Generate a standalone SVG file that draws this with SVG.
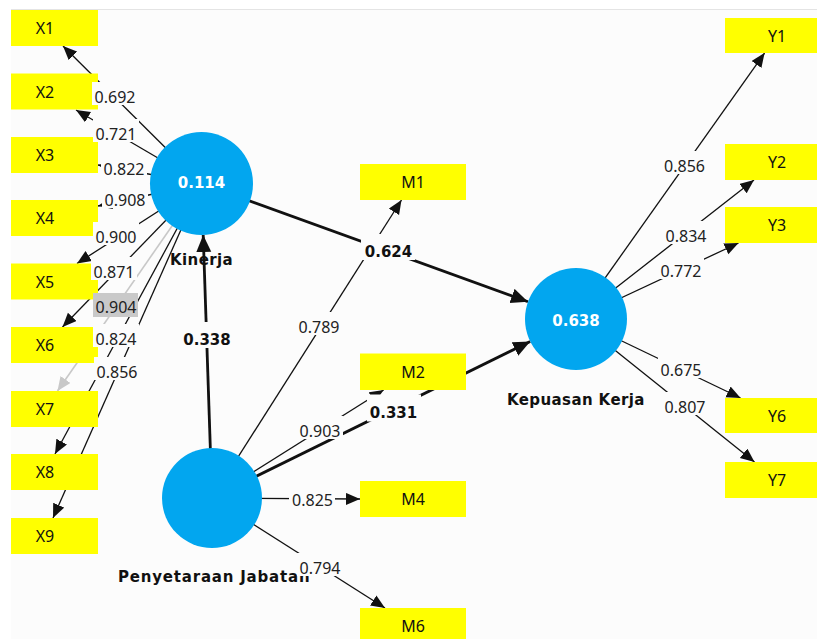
<svg xmlns="http://www.w3.org/2000/svg" width="817" height="639" viewBox="0 0 817 639">
<defs>
<style>
.bg{fill:#fcfcfc}
.ind{fill:#ffff00}
.lv{fill:#02a6ef}
.ilbl{font-family:"Noto Sans","Open Sans",sans-serif;font-size:16px;fill:#111;text-anchor:middle}
.lvtxt{font-family:"DejaVu Sans",sans-serif;font-weight:bold;font-size:15px;fill:#fff;text-anchor:middle}
.lvname{font-family:"DejaVu Sans",sans-serif;font-weight:bold;font-size:15px;fill:#111;letter-spacing:0.4px}
.thin{stroke:#111;stroke-width:1.3;fill:none;marker-end:url(#ah)}
.thick{stroke:#111;stroke-width:2.8;fill:none;marker-end:url(#ahb)}
.gray{stroke:#c8c8c8;stroke-width:1.6;fill:none;marker-end:url(#ahg)}
.lbg{fill:#fcfcfc}
.ltxt{font-family:"Noto Sans","Open Sans",sans-serif;font-size:16px;fill:#222;text-anchor:middle}
.btxt{font-family:"DejaVu Sans",sans-serif;font-weight:bold;font-size:15px;fill:#111;text-anchor:middle}
</style>
<marker id="ah" markerUnits="userSpaceOnUse" markerWidth="15" markerHeight="13" refX="14" refY="6" orient="auto"><path d="M0,0 L14,6 L0,12 z" fill="#111"/></marker>
<marker id="ahb" markerUnits="userSpaceOnUse" markerWidth="18" markerHeight="16" refX="17" refY="7.5" orient="auto"><path d="M0,0 L17,7.5 L0,15 z" fill="#111"/></marker>
<marker id="ahg" markerUnits="userSpaceOnUse" markerWidth="15" markerHeight="13" refX="14" refY="6" orient="auto"><path d="M0,0 L14,6 L0,12 z" fill="#c8c8c8"/></marker>
</defs>
<rect x="0" y="0" width="817" height="639" fill="#ffffff"/>
<rect class="bg" x="11" y="9" width="806" height="630"/>
<line x1="11" y1="9.5" x2="817" y2="9.5" stroke="#e4e4e4" stroke-width="1"/>

<g id="connectors">
<line class="thin" x1="201.5" y1="183.5" x2="63" y2="46"/>
<line class="thin" x1="201.5" y1="183.5" x2="76" y2="110"/>
<line class="thin" x1="201.5" y1="183.5" x2="98" y2="165"/>
<line class="thin" x1="201.5" y1="183.5" x2="98" y2="206"/>
<line class="thin" x1="201.5" y1="183.5" x2="77" y2="263.5"/>
<line class="thin" x1="201.5" y1="183.5" x2="62.5" y2="327"/>
<line class="gray" x1="201.5" y1="183.5" x2="57.5" y2="391"/>
<line class="thin" x1="201.5" y1="183.5" x2="55" y2="454"/>
<line class="thin" x1="201.5" y1="183.5" x2="53" y2="518"/>
<line class="thick" x1="201.5" y1="183.5" x2="528" y2="301.7"/>
<line class="thick" x1="212" y1="498" x2="203.2" y2="235"/>
<line class="thick" x1="212" y1="498" x2="530.2" y2="341.5"/>
<line class="thin" x1="212" y1="498" x2="401.5" y2="200"/>
<line class="thin" x1="212" y1="498" x2="383.6" y2="390"/>
<line class="thin" x1="212" y1="498" x2="360" y2="499"/>
<line class="thin" x1="212" y1="498" x2="385" y2="608"/>
<line class="thin" x1="576" y1="319" x2="764.6" y2="53"/>
<line class="thin" x1="576" y1="319" x2="754" y2="180"/>
<line class="thin" x1="576" y1="319" x2="738.5" y2="243"/>
<line class="thin" x1="576" y1="319" x2="740.6" y2="398"/>
<line class="thin" x1="576" y1="319" x2="754.5" y2="462"/>
</g>

<g id="X1"><rect class="ind" x="11" y="10" width="87" height="36"/><text class="ilbl" x="45" y="34">X1</text></g>
<g id="X2"><rect class="ind" x="11" y="73.5" width="87" height="36"/><text class="ilbl" x="45" y="97.5">X2</text></g>
<g id="X3"><rect class="ind" x="11" y="137" width="87" height="36"/><text class="ilbl" x="45" y="161">X3</text></g>
<g id="X4"><rect class="ind" x="11" y="200" width="87" height="36"/><text class="ilbl" x="45" y="224">X4</text></g>
<g id="X5"><rect class="ind" x="11" y="263.5" width="87" height="36"/><text class="ilbl" x="45" y="287.5">X5</text></g>
<g id="X6"><rect class="ind" x="11" y="327" width="87" height="36"/><text class="ilbl" x="45" y="351">X6</text></g>
<g id="X7"><rect class="ind" x="11" y="391" width="87" height="36"/><text class="ilbl" x="45" y="415">X7</text></g>
<g id="X8"><rect class="ind" x="11" y="454" width="87" height="36"/><text class="ilbl" x="45" y="478">X8</text></g>
<g id="X9"><rect class="ind" x="11" y="518" width="87" height="36"/><text class="ilbl" x="45" y="542">X9</text></g>

<g id="M1"><rect class="ind" x="360" y="164" width="106" height="36"/><text class="ilbl" x="413" y="188">M1</text></g>
<g id="M2"><rect class="ind" x="360" y="353.5" width="106" height="36.5"/><text class="ilbl" x="413" y="378">M2</text></g>
<g id="M4"><rect class="ind" x="360" y="481" width="106" height="36"/><text class="ilbl" x="413" y="505">M4</text></g>
<g id="M6"><rect class="ind" x="360" y="608" width="106" height="36"/><text class="ilbl" x="413" y="632">M6</text></g>

<g id="Y1"><rect class="ind" x="725" y="18" width="92" height="35"/><text class="ilbl" x="777" y="41.5">Y1</text></g>
<g id="Y2"><rect class="ind" x="725" y="144" width="92" height="36"/><text class="ilbl" x="777" y="168">Y2</text></g>
<g id="Y3"><rect class="ind" x="725" y="207" width="92" height="36"/><text class="ilbl" x="777" y="231">Y3</text></g>
<g id="Y6"><rect class="ind" x="725" y="398" width="92" height="35"/><text class="ilbl" x="777" y="421.5">Y6</text></g>
<g id="Y7"><rect class="ind" x="725" y="462" width="92" height="36"/><text class="ilbl" x="777" y="486">Y7</text></g>

<g id="Kinerja"><circle class="lv" cx="201.5" cy="183.5" r="51.5"/><text class="lvtxt" x="201.5" y="187.5">0.114</text><text class="lvname" x="170" y="265">Kinerja</text></g>
<g id="PenyetaraanJabatan"><circle class="lv" cx="212" cy="498" r="50"/><text class="lvname" x="118" y="582" style="letter-spacing:0.8px">Penyetaraan Jabatan</text></g>
<g id="KepuasanKerja"><circle class="lv" cx="576" cy="319" r="51"/><text class="lvtxt" x="576" y="326">0.638</text><text class="lvname" x="507" y="405">Kepuasan Kerja</text></g>

<g id="connector-labels">
<rect class="lbg" x="92" y="82" width="46" height="23"/><text class="ltxt" x="115" y="102.5">0.692</text>
<rect class="lbg" x="93" y="119" width="46" height="23"/><text class="ltxt" x="116" y="140">0.721</text>
<rect class="lbg" x="101" y="154" width="46" height="23"/><text class="ltxt" x="124" y="175">0.822</text>
<rect class="lbg" x="102" y="185" width="46" height="23"/><text class="ltxt" x="125" y="206">0.908</text>
<rect class="lbg" x="93" y="222" width="46" height="23"/><text class="ltxt" x="116" y="243">0.900</text>
<rect class="lbg" x="91" y="257" width="46" height="23"/><text class="ltxt" x="114" y="278">0.871</text>
<rect x="93" y="293" width="45" height="24" fill="#c9c9c9"/><text class="ltxt" x="116" y="313">0.904</text>
<rect class="lbg" x="93" y="324" width="46" height="23"/><text class="ltxt" x="116" y="345">0.824</text>
<rect class="lbg" x="94" y="357" width="46" height="23"/><text class="ltxt" x="117" y="378">0.856</text>

<rect class="lbg" x="296" y="312" width="46" height="23"/><text class="ltxt" x="319" y="333">0.789</text>
<rect class="lbg" x="297" y="416" width="46" height="23"/><text class="ltxt" x="320" y="437">0.903</text>
<rect class="lbg" x="289" y="485" width="46" height="23"/><text class="ltxt" x="312.5" y="506">0.825</text>
<rect class="lbg" x="297" y="553" width="46" height="23"/><text class="ltxt" x="320" y="574">0.794</text>

<rect class="lbg" x="661" y="151" width="47" height="23"/><text class="ltxt" x="684.5" y="172">0.856</text>
<rect class="lbg" x="663" y="221" width="46" height="23"/><text class="ltxt" x="686" y="242">0.834</text>
<rect class="lbg" x="658" y="256" width="46" height="23"/><text class="ltxt" x="681" y="277">0.772</text>
<rect class="lbg" x="658" y="355" width="46" height="23"/><text class="ltxt" x="681" y="376">0.675</text>
<rect class="lbg" x="662" y="392" width="46" height="23"/><text class="ltxt" x="685" y="413">0.807</text>

<rect class="lbg" x="361" y="234" width="54" height="26"/><text class="btxt" x="388.5" y="257">0.624</text>
<rect class="lbg" x="180" y="322" width="54" height="26"/><text class="btxt" x="207" y="345">0.338</text>
<rect class="lbg" x="367" y="394.5" width="54" height="27"/><text class="btxt" x="393.5" y="418">0.331</text>
</g>
</svg>
